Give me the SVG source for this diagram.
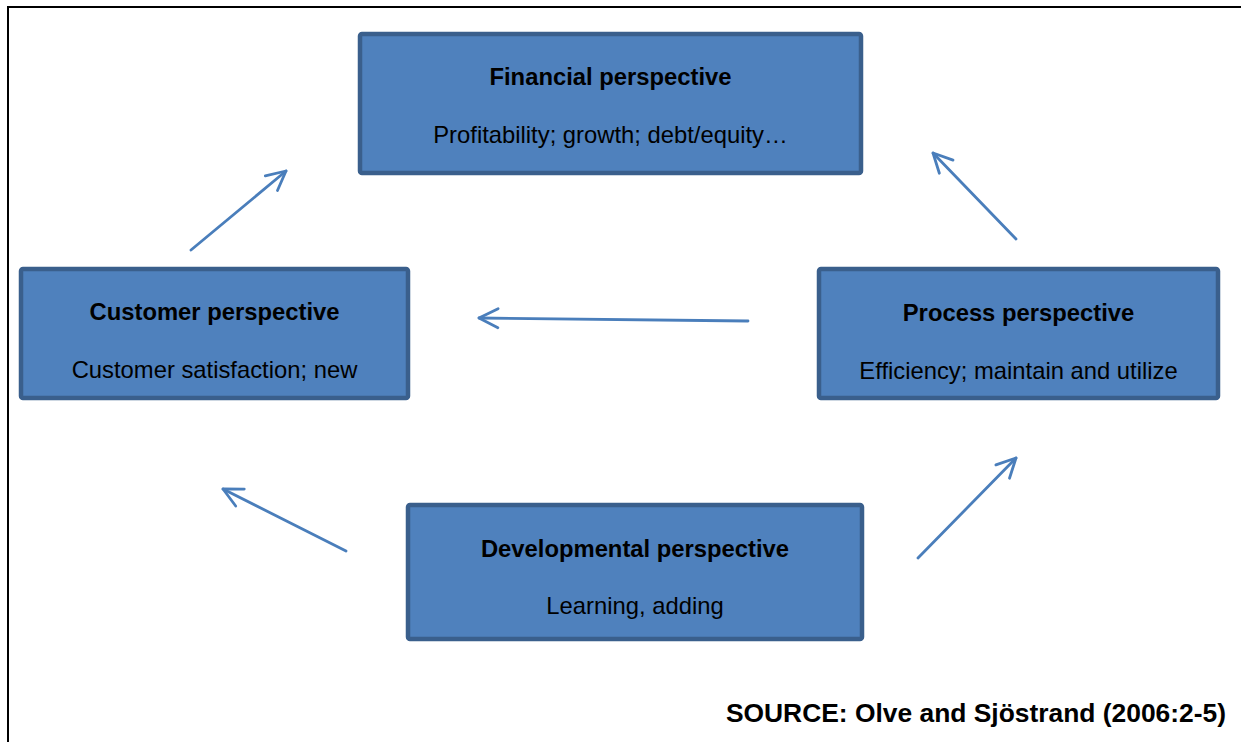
<svg xmlns="http://www.w3.org/2000/svg" width="1241" height="742" viewBox="0 0 1241 742">
  <defs>
    <style>
      .box { fill: #4F81BD; stroke: #3A5F8C; stroke-width: 4.5; }
      .title { font-family: "Liberation Sans", Arial, sans-serif; font-weight: bold; font-size: 23.8px; fill: #000; text-anchor: middle; }
      .sub { font-family: "Liberation Sans", Arial, sans-serif; font-size: 23.8px; fill: #000; text-anchor: middle; }
      .link { fill: none; stroke: #4A7EBB; stroke-width: 2.8; stroke-linecap: round; marker-end: url(#open); }
      .frame { fill: none; stroke: #000; stroke-width: 2; }
      .source { font-family: "Liberation Sans", Arial, sans-serif; font-weight: bold; font-size: 26.4px; fill: #000; text-anchor: end; }
    </style>
    <marker id="open" markerUnits="userSpaceOnUse" orient="auto" refX="0" refY="0" markerWidth="40" markerHeight="40" viewBox="-30 -20 40 40" overflow="visible">
      <path d="M -19 -9.5 L 0 0 L -19 9.5" fill="none" stroke="#4A7EBB" stroke-width="2.8" stroke-linecap="round" stroke-linejoin="round"/>
    </marker>
  </defs>

  <!-- page frame -->
  <path class="frame" d="M 8 742 L 8 7 L 1241 7"/>

  <!-- connectors -->
  <g id="connectors">
    <line class="link" x1="191" y1="250" x2="286" y2="171"/>
    <line class="link" x1="1016" y1="239" x2="933" y2="153"/>
    <line class="link" x1="748" y1="321" x2="479" y2="318"/>
    <line class="link" x1="346" y1="551" x2="223" y2="489"/>
    <line class="link" x1="918" y1="558" x2="1016" y2="458"/>
  </g>

  <g id="financial">
    <rect class="box" x="360" y="34" width="501" height="139" rx="2"/>
    <text class="title" x="610.5" y="85">Financial perspective</text>
    <text class="sub" x="610.5" y="143">Profitability; growth; debt/equity…</text>
  </g>

  <g id="customer">
    <rect class="box" x="21" y="269" width="387" height="129" rx="2"/>
    <text class="title" x="214.5" y="320">Customer perspective</text>
    <text class="sub" x="214.5" y="378">Customer satisfaction; new</text>
  </g>

  <g id="process">
    <rect class="box" x="819" y="269" width="399" height="129" rx="2"/>
    <text class="title" x="1018.5" y="321">Process perspective</text>
    <text class="sub" x="1018.5" y="379">Efficiency; maintain and utilize</text>
  </g>

  <g id="developmental">
    <rect class="box" x="408" y="505" width="454" height="134" rx="2"/>
    <text class="title" x="635" y="557">Developmental perspective</text>
    <text class="sub" x="635" y="614">Learning, adding</text>
  </g>

  <text class="source" x="1226" y="722">SOURCE: Olve and Sjöstrand (2006:2-5)</text>
</svg>
